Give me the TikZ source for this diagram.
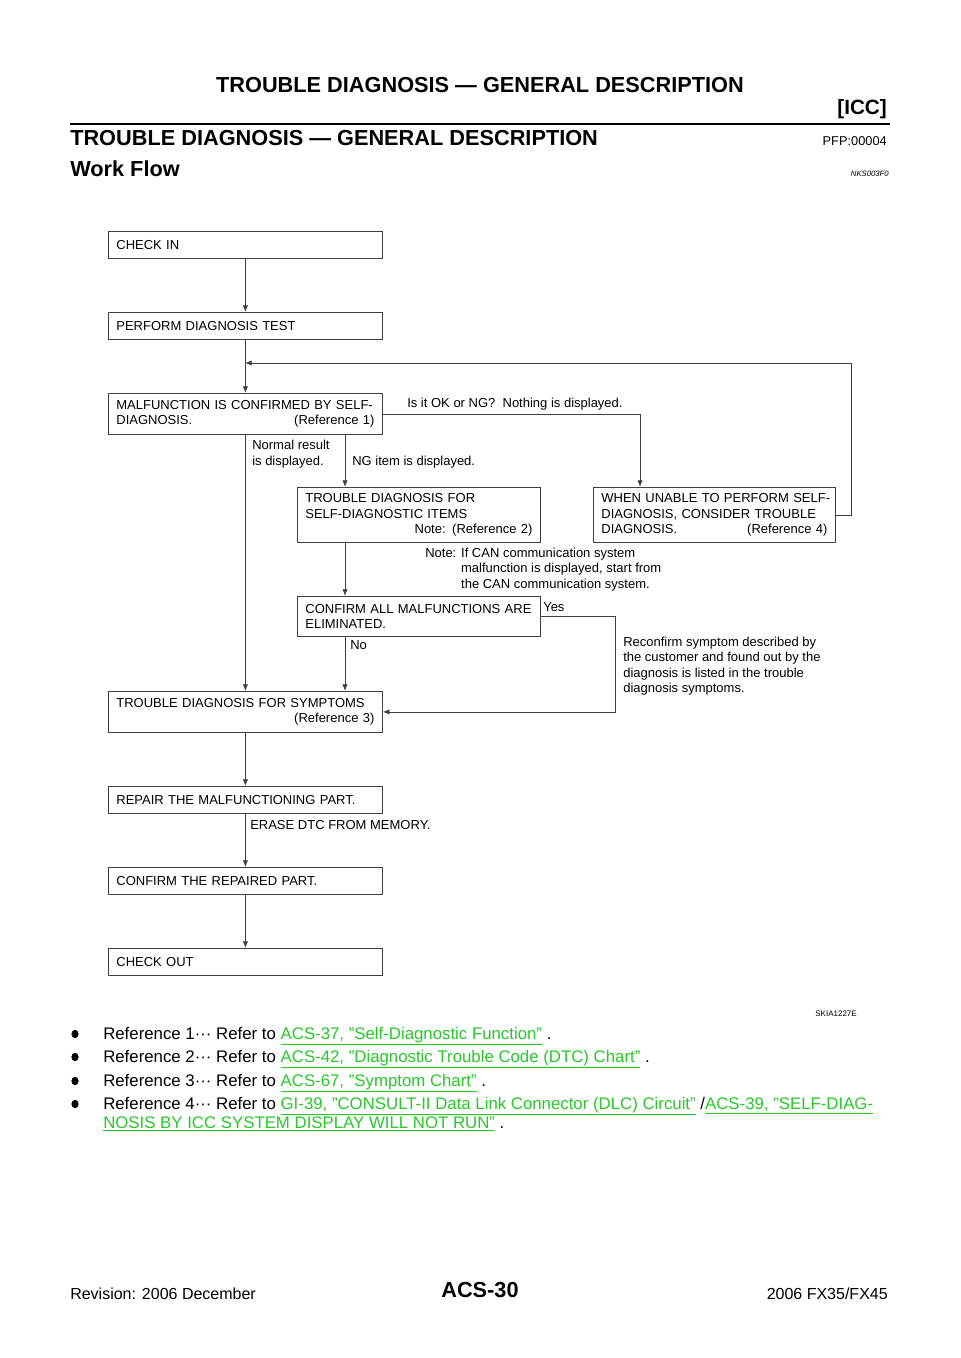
\documentclass[tikz,border=0pt]{standalone}
\usepackage{fontspec}
\setmainfont{Liberation Sans}
\usetikzlibrary{arrows.meta}
\definecolor{linkgreen}{RGB}{40,200,40}
\newcommand{\lnk}[1]{{\color{linkgreen}\underline{#1}}}
\newcommand{\chartfont}{\fontsize{9.75}{11.6}\selectfont}

\begin{document}
\begin{tikzpicture}[x=0.75pt,y=-0.75pt]
\tikzstyle{every node}=[inner sep=0pt]
\tikzstyle{box}=[draw=black!75,line width=0.6pt,anchor=north west,inner xsep=6pt,align=left,font=\chartfont]
\tikzstyle{wide}=[box,text width=193.5pt]
\tikzstyle{half}=[box,text width=170.25pt]
\tikzstyle{lbl}=[anchor=north west,align=left,font=\chartfont]
\tikzstyle{flow}=[draw=black!75,line width=0.6pt,-{Latex[length=5pt,width=4pt]}]
\tikzstyle{head}=[font=\fontsize{16.3}{18}\selectfont\bfseries]
\tikzstyle{body}=[anchor=base west,font=\fontsize{12.6}{15}\selectfont]
\useasboundingbox (0,0) rectangle (960,1358);
\node (ttl) [head,anchor=base] at (480,93) {TROUBLE DIAGNOSIS — GENERAL DESCRIPTION};
\node (icc) [head,anchor=base east,font=\fontsize{15.5}{18}\selectfont\bfseries] at (887,115) {[ICC]};
\draw[line width=1.9pt] (70,124) -- (890,124);
\node (sec) [head,anchor=base west] at (70,146) {TROUBLE DIAGNOSIS — GENERAL DESCRIPTION};
\node (pfp) [anchor=base east,font=\fontsize{9.6}{11}\selectfont] at (887,146) {PFP:00004};
\node (wfl) [head,anchor=base west] at (70,177) {Work Flow};
\node (nks) [anchor=base east,font=\fontsize{5.8}{7}\selectfont\itshape] at (889,177) {NKS003F0};
\draw (108,231) node (chk) [wide,minimum height=20.25pt] {CHECK IN};
\draw (108,312) node (pdt) [wide,minimum height=20.25pt] {PERFORM DIAGNOSIS TEST};
\draw (108,393) node (mal) [wide,minimum height=30.75pt] {\mbox{MALFUNCTION IS CONFIRMED BY SELF-}\\DIAGNOSIS.\hfill(Reference 1)};
\draw (297,487) node (tsd) [half,minimum height=41.25pt] {TROUBLE DIAGNOSIS FOR\\SELF-DIAGNOSTIC ITEMS\\\hspace*{\fill}Note: (Reference 2)};
\draw (593,487) node (wut) [box,text width=169.5pt,minimum height=41.25pt] {\mbox{WHEN UNABLE TO PERFORM SELF-}\\\mbox{DIAGNOSIS, CONSIDER TROUBLE}\\DIAGNOSIS.\hfill(Reference 4)};
\draw (297,596) node (cae) [half,minimum height=30pt] {\mbox{CONFIRM ALL MALFUNCTIONS ARE}\\ELIMINATED.};
\draw (108,691) node (sym) [wide,minimum height=30.75pt] {TROUBLE DIAGNOSIS FOR SYMPTOMS\\\hspace*{\fill}(Reference 3)};
\draw (108,786) node (rep) [wide,minimum height=20.25pt] {REPAIR THE MALFUNCTIONING PART.};
\draw (108,867) node (crp) [wide,minimum height=20.25pt] {CONFIRM THE REPAIRED PART.};
\draw (108,948) node (cko) [wide,minimum height=20.25pt] {CHECK OUT};
\node (nrm) [lbl] at (252,440) {Normal result\\is displayed.};
\node (ngi) [lbl] at (352,455.5) {NG item is displayed.};
\node (okng) [lbl] at (407,397.5) {Is it OK or NG?\ \ Nothing is displayed.};
\node (can) [lbl] at (425,547.5) {Note: If CAN communication system\\\phantom{Note: }malfunction is displayed, start from\\\phantom{Note: }the CAN communication system.};
\node (yes) [lbl] at (543,602.5) {Yes};
\node (no) [lbl] at (350,640.5) {No};
\node (rcf) [lbl] at (623,636.5) {Reconfirm symptom described by\\the customer and found out by the\\diagnosis is listed in the trouble\\diagnosis symptoms.};
\node (ers) [lbl] at (250,820.5) {ERASE DTC FROM MEMORY.};
\coordinate (ngx) at (345,0);
\coordinate (okx) at (640,0);
\coordinate (mrg) at (245,363);
\draw[flow] (chk) -- (pdt);
\draw[flow] (pdt) -- (mal);
\draw[flow] (mal) -- (sym);
\draw[flow] (mal.south -| ngx) -- (tsd.north -| ngx);
\draw[flow] (mal.east) -| (wut.north -| okx);
\draw[flow] (wut.east) -- ++(16,0) |- (mrg);
\draw[flow] (tsd.south -| ngx) -- (cae.north -| ngx);
\draw[flow] (cae.south -| ngx) -- (sym.north -| ngx);
\draw[flow] (cae.east) -- ++(75,0) |- (sym.east);
\draw[flow] (sym) -- (rep);
\draw[flow] (rep) -- (crp);
\draw[flow] (crp) -- (cko);
\node (ska) [anchor=base east,font=\fontsize{6}{7}\selectfont] at (857,1016) {SKIA1227E};
\fill (75,1034) ellipse (3.6 and 4.2);
\fill (75,1057) ellipse (3.6 and 4.2);
\fill (75,1081) ellipse (3.6 and 4.2);
\fill (75,1104) ellipse (3.6 and 4.2);
\node (ref1) [body] at (103,1039) {Reference 1··· Refer to \lnk{ACS-37, "Self-Diagnostic Function"} .};
\node (ref2) [body] at (103,1062) {Reference 2··· Refer to \lnk{ACS-42, "Diagnostic Trouble Code (DTC) Chart"} .};
\node (ref3) [body] at (103,1086) {Reference 3··· Refer to \lnk{ACS-67, "Symptom Chart"} .};
\node (ref4) [body] at (103,1109) {Reference 4··· Refer to \lnk{GI-39, "CONSULT-II Data Link Connector (DLC) Circuit"} /\lnk{ACS-39, "SELF-DIAG-}};
\node (ref4b) [body] at (103,1128) {\lnk{NOSIS BY ICC SYSTEM DISPLAY WILL NOT RUN"} .};
\node (rev) [anchor=base west,font=\fontsize{12}{14}\selectfont] at (70,1299) {Revision: 2006 December};
\node (pg) [head,anchor=base] at (480,1297) {ACS-30};
\node (mdl) [anchor=base east,font=\fontsize{12}{14}\selectfont] at (888,1299) {2006 FX35/FX45};
\end{tikzpicture}
\end{document}
